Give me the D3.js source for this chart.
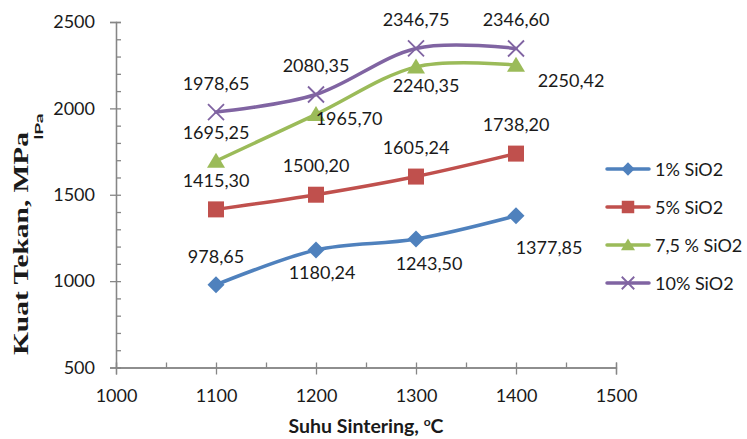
<!DOCTYPE html>
<html>
<head>
<meta charset="utf-8">
<script src="https://cdn.jsdelivr.net/npm/d3@7/dist/d3.min.js"></script>
<style>
  html, body { margin: 0; padding: 0; background: #fff; }
  svg { display: block; }
  text { font-family: Lato, "Open Sans", sans-serif; }
</style>
</head>
<body>
<svg id="chart" width="747" height="439"></svg>
<script>
// Sintering temperature (°C) and compressive strength (MPa) per SiO2 content
const temperatures = [1100, 1200, 1300, 1400];
const seriesNames = ["1% SiO2", "5% SiO2", "7,5 % SiO2", "10% SiO2"];
const strength1 = [978.65, 1180.24, 1243.50, 1377.85];
const strength5 = [1415.30, 1500.20, 1605.24, 1738.20];
const strength75 = [1695.25, 1965.70, 2240.35, 2250.42];
const strength10 = [1978.65, 2080.35, 2346.75, 2346.60];
const xTicks = [1000, 1100, 1200, 1300, 1400, 1500];
const yTicks = [500, 1000, 1500, 2000, 2500];

(function () {
const svg = d3.select("#chart");
const plotLeft = 116, plotRight = 616, plotTop = 22, plotBottom = 367.5;

const x = d3.scaleLinear().domain([1000, 1500]).range([plotLeft, plotRight]);
const y = d3.scaleLinear().domain([500, 2500]).range([plotBottom, plotTop]);

const axisColor = "#868686";
const textColor = "#1a1a1a";

// axes: major ticks cross the axis line, minor ticks point inward
const gy = svg.append("g").attr("transform", `translate(${plotLeft},0)`);
gy.call(d3.axisLeft(y).tickValues(yTicks).tickSize(6).tickPadding(15).tickFormat(d3.format("d")));
const gyMinor = svg.append("g").attr("transform", `translate(${plotLeft},0)`);
gyMinor.call(d3.axisRight(y).tickValues(d3.range(500, 2501, 100)).tickSize(5).tickFormat(""));

const gx = svg.append("g").attr("transform", `translate(0,${plotBottom})`);
gx.call(d3.axisBottom(x).tickValues(xTicks).tickSize(7).tickPadding(15).tickFormat(d3.format("d")));
const gxMinor = svg.append("g").attr("transform", `translate(0,${plotBottom})`);
gxMinor.call(d3.axisTop(x).tickValues(d3.range(1000, 1501, 50)).tickSize(5).tickFormat(""));

svg.selectAll(".domain").attr("stroke", axisColor).attr("stroke-width", 1.3);
svg.selectAll(".tick line").attr("stroke", axisColor).attr("stroke-width", 1.3);
svg.selectAll(".tick text").attr("fill", textColor).style("font-size", "18px")
   .style("font-family", "Lato, sans-serif");
gx.selectAll(".tick text").attr("dy", "0.72em");

// axis titles
const xt = svg.append("text").attr("x", 366).attr("y", 433).attr("text-anchor", "middle")
  .attr("fill", textColor).style("font-size", "19.5px").style("font-weight", "bold");
xt.append("tspan").text("Suhu Sintering, ");
xt.append("tspan").text("o").style("font-size", "12px").attr("dy", -7);
xt.append("tspan").text("C").attr("dy", 7);

svg.append("text").attr("transform", "translate(28,243.5) rotate(-90)")
  .attr("text-anchor", "middle").attr("fill", textColor)
  .attr("textLength", 223).attr("lengthAdjust", "spacingAndGlyphs")
  .style("font-family", "'Liberation Serif', 'Times New Roman', serif")
  .style("font-size", "21px").style("font-weight", "bold")
  .text("Kuat Tekan, MPa");
svg.append("text").attr("transform", "translate(43,126.5) rotate(-90)")
  .attr("text-anchor", "middle").attr("fill", textColor)
  .attr("textLength", 26).attr("lengthAdjust", "spacingAndGlyphs")
  .style("font-size", "11px").style("font-weight", "bold")
  .text("lPa");

// series
const colors = ["#4F81BD", "#C0504D", "#9BBB59", "#8064A2"];
const values = [strength1, strength5, strength75, strength10];
const series = seriesNames.map((name, i) => ({
  name, color: colors[i], symbol: i,
  points: temperatures.map((t, j) => ({ t, v: values[i][j] }))
}));

// label offsets from each point (dx, dy) to the label centre
const labelOffsets = [
  [[0, -28], [6, 23], [13, 24], [33, 32]],
  [[0, -29], [0, -29], [0, -29], [0, -29]],
  [[0, -29], [33, 4], [10, 19], [55, 15]],
  [[0, -29], [0, -29], [0, -29], [0, -29]]
];

const line = d3.line().x(d => x(d.t)).y(d => y(d.v)).curve(d3.curveCatmullRom.alpha(0));

function drawMarker(g, type, cx, cy, color, scale) {
  const s = scale || 1;
  if (type === 0) {
    const r = 8.5 * s;
    g.append("path").attr("d", `M${cx},${cy - r}L${cx + r},${cy}L${cx},${cy + r}L${cx - r},${cy}Z`)
      .attr("fill", color);
  } else if (type === 1) {
    const h = 8 * s;
    g.append("rect").attr("x", cx - h).attr("y", cy - h).attr("width", 2 * h).attr("height", 2 * h)
      .attr("fill", color);
  } else if (type === 2) {
    const w = 9 * s, hh = 15 * s;
    g.append("path").attr("d", `M${cx},${cy - hh * 0.55}L${cx + w},${cy + hh * 0.45}L${cx - w},${cy + hh * 0.45}Z`)
      .attr("fill", color);
  } else {
    const r = 8 * s;
    g.append("path").attr("d", `M${cx - r},${cy - r}L${cx + r},${cy + r}M${cx + r},${cy - r}L${cx - r},${cy + r}`)
      .attr("stroke", color).attr("stroke-width", 1.8).attr("fill", "none");
  }
}

const fmt = v => v.toFixed(2).replace(".", ",");

series.forEach((s) => {
  const g = svg.append("g");
  g.append("path").datum(s.points).attr("d", line)
    .attr("fill", "none").attr("stroke", s.color).attr("stroke-width", 3.5)
    .attr("stroke-linecap", "round");
  s.points.forEach(p => drawMarker(g, s.symbol, x(p.t), y(p.v), s.color));
});

// data labels drawn last so they sit above the lines
series.forEach((s, i) => {
  s.points.forEach((p, j) => {
    const [dx, dy] = labelOffsets[i][j];
    svg.append("text").attr("x", x(p.t) + dx).attr("y", y(p.v) + dy + 6.5)
      .attr("text-anchor", "middle").attr("fill", textColor)
      .style("font-size", "18px").text(fmt(p.v));
  });
});

// legend
const legendRows = [169, 207, 245, 283];
series.forEach((s, i) => {
  const g = svg.append("g");
  const ly = legendRows[i];
  g.append("line").attr("x1", 607).attr("x2", 649).attr("y1", ly).attr("y2", ly)
    .attr("stroke", s.color).attr("stroke-width", 3.5).attr("stroke-linecap", "round");
  drawMarker(g, s.symbol, 628, ly, s.color, 0.78);
  g.append("text").attr("x", 655).attr("y", ly + 6.5).attr("fill", textColor)
    .style("font-size", "18px").text(s.name);
});
})();
</script>
</body>
</html>
